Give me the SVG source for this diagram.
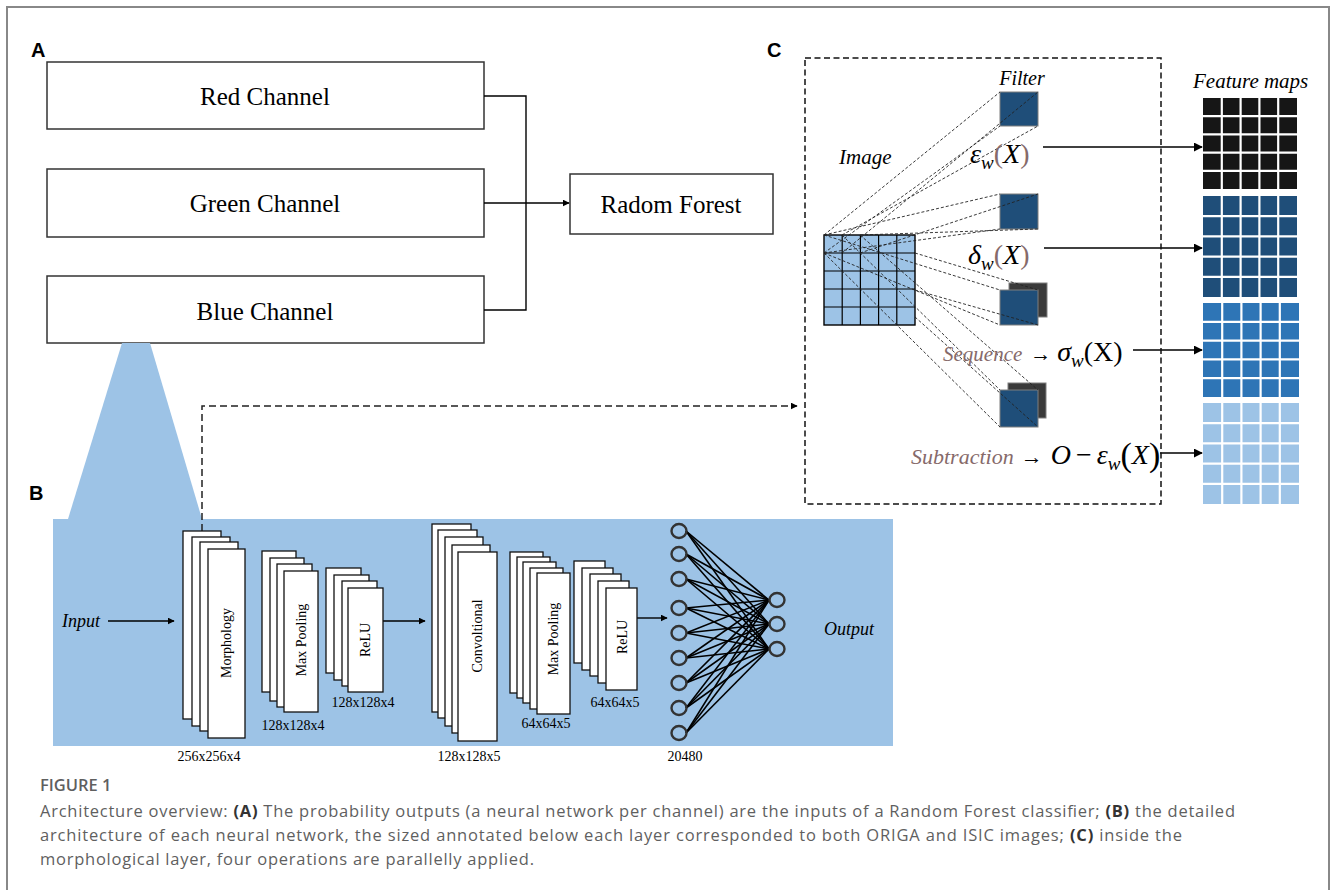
<svg xmlns="http://www.w3.org/2000/svg" width="1333" height="890" viewBox="0 0 1333 890">
<defs>
<marker id="ah" viewBox="0 0 10 10" refX="9" refY="5" markerWidth="7" markerHeight="7" markerUnits="userSpaceOnUse" orient="auto"><path d="M0,0 L10,5 L0,10 z" fill="#000"/></marker>
<marker id="ah2" viewBox="0 0 10 10" refX="9" refY="5" markerWidth="9" markerHeight="9" markerUnits="userSpaceOnUse" orient="auto"><path d="M0,0 L10,5 L0,10 z" fill="#000"/></marker>
<style>
.box{fill:#fff;stroke:#333;stroke-width:1.5}
.t{font-family:"Liberation Serif",serif;fill:#000}
.big{font-size:25px;text-anchor:middle}
.lay{fill:#fff;stroke:#111;stroke-width:1.3}
.lt{font-family:"Liberation Serif",serif;font-size:14px;text-anchor:middle;fill:#000}
.it{font-family:"Liberation Serif",serif;font-style:italic;fill:#000}
.lbl{font-family:"Liberation Sans",Arial,sans-serif;font-weight:bold;font-size:20px;fill:#000}
.con{stroke:#000;stroke-width:1.4;fill:none}
.nn{stroke:#000;stroke-width:1.6}
.node{fill:none;stroke:#333;stroke-width:2.4}
.dl{stroke:#222;stroke-width:0.9;stroke-dasharray:3,2;fill:none}
.flt{fill:#1f4e79;stroke:#7f7f7f;stroke-width:1}
.bk{fill:#3a3a3a;stroke:#7f7f7f;stroke-width:1}
.br{fill:#866a6a}
.gl{stroke:#fff;stroke-width:2.2}
.cap{font-family:"Open Sans","Liberation Sans",sans-serif;font-size:16.5px;fill:#5f5f5f}
</style>
</defs>
<rect x="0" y="0" width="1333" height="890" fill="#fff"/>
<rect x="7" y="7" width="1322" height="900" fill="none" stroke="#888" stroke-width="2"/>

<!-- Panel labels -->
<text class="lbl" x="31" y="57">A</text>
<text class="lbl" x="767" y="57">C</text>
<text class="lbl" x="29" y="500">B</text>

<!-- Panel A -->
<g id="red">
<rect class="box" x="47" y="62" width="437" height="67"/>
<text class="t big" x="265" y="105">Red Channel</text>
</g>
<g id="green">
<rect class="box" x="47" y="169" width="437" height="68"/>
<text class="t big" x="265" y="212">Green Channel</text>
</g>
<g id="blue">
<rect class="box" x="47" y="276" width="437" height="67"/>
<text class="t big" x="265" y="320">Blue Channel</text>
</g>
<g id="forest">
<rect class="box" x="570" y="174" width="203" height="60"/>
<text class="t big" x="671" y="213">Radom Forest</text>
</g>

<!-- Panel B background -->
<g id="panelB-bg">
<polygon points="122,343 150,343 202,519 68,519" fill="#9dc3e6"/>
<rect x="53" y="519" width="840" height="227" fill="#9dc3e6"/>
</g>

<g id="connectors">
<path class="con" d="M484,96 H526 V310 H484"/>
<path class="con" d="M484,203 H569" marker-end="url(#ah)"/>
<path d="M202,531 V406 H797" fill="none" stroke="#222" stroke-width="1.5" stroke-dasharray="7,4" marker-end="url(#ah)"/>
<path class="con" d="M108,621 H174" marker-end="url(#ah)"/>
<path class="con" d="M383,621 H425" marker-end="url(#ah)"/>
<path class="con" d="M637,618 H667" marker-end="url(#ah)"/>
<path class="con" d="M1043,147 H1202" marker-end="url(#ah2)"/>
<path class="con" d="M1044,248 H1202" marker-end="url(#ah2)"/>
<path class="con" d="M1133,350 H1202" marker-end="url(#ah2)"/>
<path class="con" d="M1160,453 H1202" marker-end="url(#ah2)"/>
</g>

<!-- Panel B -->
<text class="it" x="62" y="627" font-size="18">Input</text>
<g id="morphology">
<rect class="lay" x="183" y="531" width="38" height="188"/>
<rect class="lay" x="192" y="537" width="38" height="189"/>
<rect class="lay" x="200" y="542" width="38" height="189"/>
<rect class="lay" x="208" y="549" width="37" height="189"/>
<text class="lt" transform="translate(231,643) rotate(-90)">Morphology</text>
<text class="lt" x="209" y="761">256x256x4</text>
</g>
<g id="maxpool1">
<rect class="lay" x="262" y="551" width="34" height="141"/>
<rect class="lay" x="270" y="558" width="34" height="143"/>
<rect class="lay" x="277" y="564" width="35" height="143"/>
<rect class="lay" x="284" y="571" width="34" height="141"/>
<text class="lt" transform="translate(306,640) rotate(-90)">Max Pooling</text>
<text class="lt" x="293" y="730">128x128x4</text>
</g>
<g id="relu1">
<rect class="lay" x="326" y="568" width="35" height="105"/>
<rect class="lay" x="334" y="575" width="35" height="105"/>
<rect class="lay" x="342" y="581" width="35" height="105"/>
<rect class="lay" x="348" y="588" width="35" height="104"/>
<text class="lt" transform="translate(370,640) rotate(-90)">ReLU</text>
<text class="lt" x="363" y="707">128x128x4</text>
</g>
<g id="conv">
<rect class="lay" x="432" y="524" width="39" height="188"/>
<rect class="lay" x="438" y="530" width="39" height="188"/>
<rect class="lay" x="445" y="537" width="38" height="189"/>
<rect class="lay" x="452" y="545" width="38" height="188"/>
<rect class="lay" x="458" y="552" width="39" height="189"/>
<text class="lt" transform="translate(482,636) rotate(-90)">Convoltional</text>
<text class="lt" x="469" y="761">128x128x5</text>
</g>
<g id="maxpool2">
<rect class="lay" x="510" y="552" width="33" height="141"/>
<rect class="lay" x="517" y="557" width="33" height="141"/>
<rect class="lay" x="523" y="562" width="33" height="141"/>
<rect class="lay" x="530" y="568" width="33" height="141"/>
<rect class="lay" x="537" y="573" width="33" height="141"/>
<text class="lt" transform="translate(558,639) rotate(-90)">Max Pooling</text>
<text class="lt" x="546" y="728">64x64x5</text>
</g>
<g id="relu2">
<rect class="lay" x="574" y="561" width="31" height="102"/>
<rect class="lay" x="582" y="568" width="31" height="102"/>
<rect class="lay" x="590" y="574" width="31" height="102"/>
<rect class="lay" x="598" y="581" width="31" height="102"/>
<rect class="lay" x="606" y="588" width="31" height="102"/>
<text class="lt" transform="translate(627,637) rotate(-90)">ReLU</text>
<text class="lt" x="615" y="707">64x64x5</text>
</g>
<g id="dense">
<g class="nn">
<line x1="686" y1="531" x2="769" y2="600"/><line x1="686" y1="531" x2="769" y2="624"/><line x1="686" y1="531" x2="769" y2="649"/>
<line x1="686" y1="554" x2="769" y2="600"/><line x1="686" y1="554" x2="769" y2="624"/><line x1="686" y1="554" x2="769" y2="649"/>
<line x1="686" y1="579" x2="769" y2="600"/><line x1="686" y1="579" x2="769" y2="624"/><line x1="686" y1="579" x2="769" y2="649"/>
<line x1="686" y1="608" x2="769" y2="600"/><line x1="686" y1="608" x2="769" y2="624"/><line x1="686" y1="608" x2="769" y2="649"/>
<line x1="686" y1="633" x2="769" y2="600"/><line x1="686" y1="633" x2="769" y2="624"/><line x1="686" y1="633" x2="769" y2="649"/>
<line x1="686" y1="658" x2="769" y2="600"/><line x1="686" y1="658" x2="769" y2="624"/><line x1="686" y1="658" x2="769" y2="649"/>
<line x1="686" y1="683" x2="769" y2="600"/><line x1="686" y1="683" x2="769" y2="624"/><line x1="686" y1="683" x2="769" y2="649"/>
<line x1="686" y1="708" x2="769" y2="600"/><line x1="686" y1="708" x2="769" y2="624"/><line x1="686" y1="708" x2="769" y2="649"/>
<line x1="686" y1="733" x2="769" y2="600"/><line x1="686" y1="733" x2="769" y2="624"/><line x1="686" y1="733" x2="769" y2="649"/>
</g>
<g>
<ellipse class="node" cx="679" cy="531" rx="7.5" ry="7"/>
<ellipse class="node" cx="679" cy="554" rx="7.5" ry="7"/>
<ellipse class="node" cx="679" cy="579" rx="7.5" ry="7"/>
<ellipse class="node" cx="679" cy="608" rx="7.5" ry="7"/>
<ellipse class="node" cx="679" cy="633" rx="7.5" ry="7"/>
<ellipse class="node" cx="679" cy="658" rx="7.5" ry="7"/>
<ellipse class="node" cx="679" cy="683" rx="7.5" ry="7"/>
<ellipse class="node" cx="679" cy="708" rx="7.5" ry="7"/>
<ellipse class="node" cx="679" cy="733" rx="7.5" ry="7"/>
<ellipse class="node" cx="777" cy="600" rx="7.5" ry="7"/>
<ellipse class="node" cx="777" cy="624" rx="7.5" ry="7"/>
<ellipse class="node" cx="777" cy="649" rx="7.5" ry="7"/>
</g>
<text class="lt" x="685" y="761">20480</text>
</g>
<text class="it" x="824" y="635" font-size="18">Output</text>

<!-- Panel C -->
<g id="panelC">
<rect x="805" y="58" width="356" height="446" fill="none" stroke="#111" stroke-width="1.5" stroke-dasharray="6,3.5"/>
<text class="it" x="1022" y="85" font-size="20" text-anchor="middle">Filter</text>
<text class="it" x="839" y="164" font-size="21">Image</text>
<g id="image-grid">
<rect x="824" y="235" width="91" height="90" fill="#9dc3e6" stroke="#000" stroke-width="1.4"/>
<path d="M842.2,235 V325 M860.4,235 V325 M878.6,235 V325 M896.8,235 V325 M824,253 H915 M824,271 H915 M824,289 H915 M824,307 H915" stroke="#000" stroke-width="1.2"/>
</g>
<g id="filters">
<rect class="flt" x="1000" y="92" width="38" height="34"/>
<rect class="flt" x="1000" y="194" width="38" height="35"/>
<rect class="bk" x="1009" y="283" width="38" height="34"/>
<rect class="flt" x="1000" y="290" width="38" height="35"/>
<rect class="bk" x="1008" y="383" width="38" height="35"/>
<rect class="flt" x="1000" y="390" width="38" height="37"/>
</g>
<g id="projections">
<path class="dl" d="M824,235 L1000,92 M842,253 L1038,92 M824,253 L1000,126 M842,235 L1038,126"/>
<path class="dl" d="M824,235 L1000,194 M860,253 L1038,194 M824,253 L1000,229 M860,235 L1038,229"/>
<path class="dl" d="M824,235 L1000,290 M915,253 L1038,290 M824,253 L1000,325 M915,290 L1038,325"/>
<path class="dl" d="M842,235 L1000,390 M860,235 L1038,390 M824,253 L1000,427 M915,317 L1038,427"/>
</g>
<g id="ops">
<text class="it" x="970" y="163" font-size="28">ε<tspan font-size="19" dy="6">w</tspan><tspan class="br" dy="-6" font-style="normal">(</tspan>X<tspan class="br" font-style="normal">)</tspan></text>
<text class="it" x="968" y="264" font-size="28">δ<tspan font-size="19" dy="6">w</tspan><tspan class="br" dy="-6" font-style="normal">(</tspan>X<tspan class="br" font-style="normal">)</tspan></text>
<text class="it" x="943" y="361" font-size="21"><tspan class="br">Sequence</tspan><tspan font-style="normal" dx="8">→</tspan><tspan font-size="28" dx="6">σ</tspan><tspan font-size="19" dy="6">w</tspan><tspan font-size="28" dy="-6" font-style="normal">(X)</tspan></text>
<text class="it" x="911" y="464" font-size="22"><tspan class="br">Subtraction</tspan><tspan font-style="normal" dx="7">→</tspan><tspan font-size="28" dx="8">O</tspan><tspan font-size="28" font-style="normal" dx="5">−</tspan><tspan font-size="28" dx="5">ε</tspan><tspan font-size="19" dy="6">w</tspan><tspan font-size="34" dy="-4" font-style="normal">(</tspan><tspan font-size="28" dy="-2">X</tspan><tspan font-size="34" dy="2" font-style="normal">)</tspan></text>
</g>
<text class="it" x="1193" y="88" font-size="21">Feature maps</text>
<g id="fmap1">
<rect x="1203" y="98" width="94" height="91" fill="#161616"/>
<path class="gl" d="M1221.8,98 V189 M1240.6,98 V189 M1259.4,98 V189 M1278.2,98 V189 M1203,116.2 H1297 M1203,134.4 H1297 M1203,152.6 H1297 M1203,170.8 H1297"/>
</g>
<g id="fmap2">
<rect x="1203" y="196" width="94" height="101" fill="#1f4e79"/>
<path class="gl" d="M1221.8,196 V297 M1240.6,196 V297 M1259.4,196 V297 M1278.2,196 V297 M1203,216.2 H1297 M1203,236.4 H1297 M1203,256.6 H1297 M1203,276.8 H1297"/>
</g>
<g id="fmap3">
<rect x="1203" y="303" width="96" height="94" fill="#2e75b6"/>
<path class="gl" d="M1222.2,303 V397 M1241.4,303 V397 M1260.6,303 V397 M1279.8,303 V397 M1203,321.8 H1299 M1203,340.6 H1299 M1203,359.4 H1299 M1203,378.2 H1299"/>
</g>
<g id="fmap4">
<rect x="1203" y="403" width="96" height="101" fill="#9dc3e6"/>
<path class="gl" d="M1222.2,403 V504 M1241.4,403 V504 M1260.6,403 V504 M1279.8,403 V504 M1203,423.2 H1299 M1203,443.4 H1299 M1203,463.6 H1299 M1203,483.8 H1299"/>
</g>
</g>

<!-- Caption -->
<g id="caption">
<text class="cap" x="40" y="791" font-size="14" font-weight="600" fill="#7f7f7f">FIGURE 1</text>
<text class="cap" x="40" y="817" textLength="1195" lengthAdjust="spacing">Architecture overview: <tspan font-weight="bold" fill="#333">(A)</tspan> The probability outputs (a neural network per channel) are the inputs of a Random Forest classifier; <tspan font-weight="bold" fill="#333">(B)</tspan> the detailed</text>
<text class="cap" x="40" y="841" textLength="1142" lengthAdjust="spacing">architecture of each neural network, the sized annotated below each layer corresponded to both ORIGA and ISIC images; <tspan font-weight="bold" fill="#333">(C)</tspan> inside the</text>
<text class="cap" x="40" y="865" textLength="494" lengthAdjust="spacing">morphological layer, four operations are parallelly applied.</text>
</g>
</svg>
